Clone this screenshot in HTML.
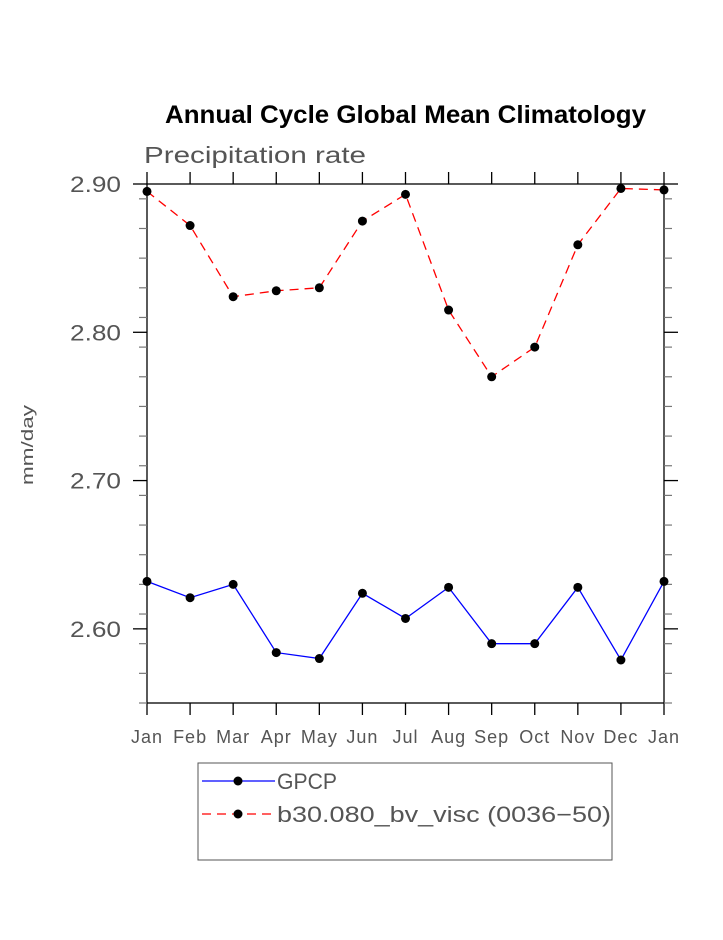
<!DOCTYPE html>
<html><head><meta charset="utf-8"><style>
body{margin:0;background:#fff;}
svg text{font-family:"Liberation Sans",sans-serif;}
</style></head><body>
<svg id="chart" width="723" height="935" xmlns="http://www.w3.org/2000/svg">
<rect width="723" height="935" fill="#fff"/>
<text x="165" y="123" font-size="25" font-weight="bold" fill="#000" textLength="481" lengthAdjust="spacingAndGlyphs">Annual Cycle Global Mean Climatology</text>
<text x="144" y="163" font-size="23" fill="#555" textLength="222" lengthAdjust="spacingAndGlyphs">Precipitation rate</text>
<text x="33" y="445" font-size="17" fill="#555" text-anchor="middle" textLength="80" lengthAdjust="spacingAndGlyphs" transform="rotate(-90 33 445)">mm/day</text>
<g id="axes"></g>
<g id="series"></g>
<g>
<rect x="198" y="763" width="414" height="97" fill="#fff" stroke="#555" stroke-width="1"/>
<line x1="202" y1="781" x2="275" y2="781" stroke="#0000ff" stroke-width="1.3"/>
<circle cx="238" cy="781" r="4.5" fill="#000"/>
<text x="277" y="789" font-size="22" fill="#555" textLength="60" lengthAdjust="spacingAndGlyphs">GPCP</text>
<line x1="202" y1="814" x2="275" y2="814" stroke="#ff0000" stroke-width="1.3" stroke-dasharray="9,6"/>
<circle cx="238" cy="814" r="4.5" fill="#000"/>
<text x="277" y="822" font-size="22" fill="#555" textLength="334" lengthAdjust="spacingAndGlyphs">b30.080_bv_visc (0036−50)</text>
</g>
</svg>
<script>
const months=["Jan","Feb","Mar","Apr","May","Jun","Jul","Aug","Sep","Oct","Nov","Dec","Jan"];
const gpcp=[2.632,2.621,2.630,2.584,2.580,2.624,2.607,2.628,2.590,2.590,2.628,2.579,2.632];
const model=[2.895,2.872,2.824,2.828,2.830,2.875,2.893,2.815,2.770,2.790,2.859,2.897,2.896];
const yTicks=["2.60","2.70","2.80","2.90"];
const NS="http://www.w3.org/2000/svg";
const X0=147,X1=664,YT=184,YB=703,YMIN=2.55,YMAX=2.90;
function xs(i){return X0+(X1-X0)*i/(months.length-1);}
function ys(v){return YB-(v-YMIN)/(YMAX-YMIN)*(YB-YT);}
function mk(tag,attrs,parent){const e=document.createElementNS(NS,tag);for(const k in attrs)e.setAttribute(k,attrs[k]);parent.appendChild(e);return e;}
const ax=document.getElementById('axes');
const frame=mk('rect',{x:X0,y:YT,width:X1-X0,height:YB-YT,fill:'none',stroke:'#000','stroke-width':1.3},ax);


months.forEach((m,i)=>{
  const x=xs(i);
  mk('line',{x1:x,y1:YT,x2:x,y2:YT-12,stroke:'#000','stroke-width':1.3},ax);
  mk('line',{x1:x,y1:YB,x2:x,y2:YB+12,stroke:'#000','stroke-width':1.3},ax);
  const t=mk('text',{x:x,y:743,'text-anchor':'middle','font-size':18,fill:'#555','letter-spacing':1},ax);
  t.textContent=m;
  
  
});
for(let k=0;k<=17;k++){
  const v=YMIN+k*0.02;
  if(v>YMAX+1e-9)break;
  const y=ys(v);
  mk('line',{x1:X0,y1:y,x2:X0-8,y2:y,stroke:'#777','stroke-width':1.2},ax);
  mk('line',{x1:X1,y1:y,x2:X1+8,y2:y,stroke:'#777','stroke-width':1.2},ax);
}
yTicks.forEach(s=>{
  const y=ys(parseFloat(s));
  mk('line',{x1:X0,y1:y,x2:X0-14,y2:y,stroke:'#000','stroke-width':1.3},ax);
  mk('line',{x1:X1,y1:y,x2:X1+14,y2:y,stroke:'#000','stroke-width':1.3},ax);
  const t=mk('text',{x:121,y:y+8,'text-anchor':'end','font-size':22,fill:'#555',textLength:51,lengthAdjust:'spacingAndGlyphs'},ax);
  t.textContent=s;
  
  
});
const sg=document.getElementById('series');
function series(vals,color,dash,name){
  const p=mk('polyline',{points:vals.map((v,i)=>xs(i)+','+ys(v)).join(' '),fill:'none',stroke:color,'stroke-width':1.3},sg);
  if(dash)p.setAttribute('stroke-dasharray',dash);
  
  
  vals.forEach((v,i)=>{
    const c=mk('circle',{cx:xs(i),cy:ys(v),r:4.5,fill:'#000'},sg);
    
    
  });
}
series(gpcp,'#0000ff',null,'gpcp');
series(model,'#ff0000','9,6','model');
</script>
</body></html>
